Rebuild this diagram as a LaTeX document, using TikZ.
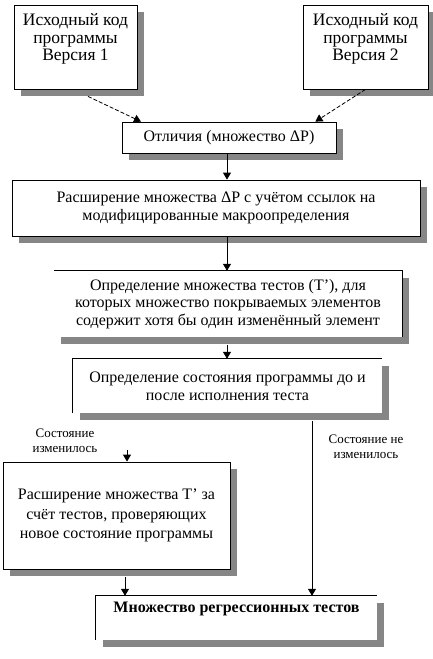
\documentclass[tikz,border=0pt]{standalone}
\usepackage{fontspec}
\setmainfont{Liberation Serif}
\usetikzlibrary{arrows.meta,shadows}
\definecolor{shade}{RGB}{134,134,134}
\begin{document}
\begin{tikzpicture}[x=1pt,y=-1pt,
  box/.style={rectangle, fill=white, inner sep=0pt, minimum width=#1,
    drop shadow={shadow xshift=7pt, shadow yshift=-7pt, fill=shade, opacity=1}},
  framed/.style={draw=black, line width=0.8pt},
  txt/.style={align=center, inner sep=0pt, font=\fontsize{16}{17.8}\selectfont},
  bigtxt/.style={align=center, inner sep=0pt, font=\fontsize{17.5}{17.5}\selectfont},
  small/.style={align=center, inner sep=0pt, font=\fontsize{13}{15.5}\selectfont},
  arr/.style={line width=0.8pt, -{Triangle[width=8pt,length=7pt]}},
  darr/.style={arr, dash pattern=on 4pt off 2pt}]
\useasboundingbox (0,0) rectangle (433,659);

% boxes
\node[box=123pt, framed, minimum height=84pt] (b1) at (75.5,47) {};
\node[bigtxt, anchor=north] (t1) at ([yshift=-9pt]b1.north) {Исходный код\\программы\\Версия 1};
\node[box=125pt, framed, minimum height=84pt] (b2) at (365.5,47) {};
\node[bigtxt, anchor=north] (t2) at ([yshift=-9pt]b2.north) {Исходный код\\программы\\Версия 2};

\node[box=214pt, framed, minimum height=31pt, txt] (diff) at (229,137.5) {Отличия (множество ΔP)};

\node[box=408pt, framed, minimum height=56pt, txt] (ext) at (216,208)
  {Расширение множества ΔP с учётом ссылок на\\модифицированные макроопределения};

\node[box=348pt, minimum height=66pt, txt] (b3) at (228,304)
  {Определение множества тестов (T'), для\\которых множество покрываемых элементов\\содержит хотя бы один изменённый элемент};
\draw[framed] (b3.north west) -- (b3.north east) -- (b3.south east);

\node[box=309pt, minimum height=54pt, txt] (b4) at (227.5,386)
  {Определение состояния программы до и\\после исполнения теста};
\draw[framed] (b4.south west) -- (b4.north west) -- (b4.north east);

\node[box=227pt, framed, minimum height=107pt, txt, font=\fontsize{16}{19.5}\selectfont] (b5) at (116.5,515.5)
  {Расширение множества T' за\\счёт тестов, проверяющих\\новое состояние программы};

\node[box=281pt, minimum height=44pt] (b6) at (236.5,618) {};
\draw[framed] (b6.south west) -- (b6.north west) -- (b6.north east);
\node[txt, anchor=north, font=\fontsize{16}{17.8}\selectfont\bfseries] (t6) at ([yshift=-6pt]b6.north) {Множество регрессионных тестов};

% labels
\node[small] (l1) at (65,441) {Состояние\\изменилось};
\node[small] (l2) at (366,447) {Состояние не\\изменилось};

% connectors
\draw[darr] ([shift={(12.5pt,-7pt)}]b1.south) -- ([xshift=-88pt]diff.north);
\draw[darr] (b2.south) -- ([xshift=-21pt]diff.north east);
\draw[arr] ([xshift=-2pt]diff.south) -- ([xshift=-2pt]diff.south |- ext.north);
\draw[arr] ([xshift=11pt]ext.south) -- ([xshift=11pt]ext.south |- b3.north);
\draw[arr] ([shift={(-1pt,-8pt)}]b3.south) -- ([xshift=-1pt]b3.south |- b4.north);
\draw[arr] ([shift={(84.5pt,-8pt)}]b4.south) -- ([xshift=84.5pt]b4.south |- b6.north);
\coordinate (c5) at (127,450);
\draw[arr] (c5) -- (c5 |- b5.north);
\draw[arr] ([shift={(8.5pt,-8pt)}]b5.south) -- ([xshift=8.5pt]b5.south |- b6.north);
\end{tikzpicture}
\end{document}
